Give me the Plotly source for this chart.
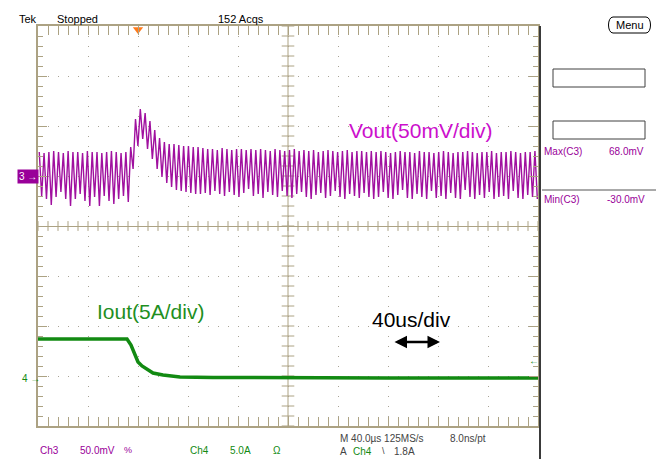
import plotly.graph_objects as go
import numpy as np

# ---------------- data ----------------
# Time base: 40 us/div, trigger at t = 0 (2 div from left), screen -80..320 us
ripple_period_us = 3.85
vout_first_peak_us = -79.0
# Vout ripple per switching cycle (mV, relative to the Ch3 ground marker)
vout_peaks_mV = [25, 24, 25, 26, 25, 24, 26, 25, 25, 24, 26, 25, 25, 24, 25, 26, 25, 24, 25,
                 30, 58, 68, 64, 56, 47, 39, 35, 33, 33, 32, 31, 31, 30, 30,
                 29, 28, 28, 27, 29, 28, 27, 28, 28, 27, 28, 27, 28, 27, 26, 28, 27, 26,
                 27, 28, 26, 27, 26, 27, 25, 26, 27, 26, 25, 26, 27, 25, 26, 26, 25, 26,
                 25, 26, 25, 24, 25, 26, 25, 25, 24, 26, 25, 25, 24, 25, 26, 25, 24,
                 25, 25, 26, 25, 24, 25, 25, 26, 24, 25, 25, 26, 25, 24, 25, 25, 26]
vout_troughs_mV = [-19, -22, -28, -20, -15, -22, -29, -22, -17, -24, -29, -20, -29, -19, -24, -27, -22, -19, -25,
                   8, 31, 38, 28, 18, 8, 0, -6, -10, -13, -14, -15, -16, -17, -17,
                   -16, -18, -14, -17, -19, -15, -18, -20, -16, -12, -19, -17, -21, -15, -18, -20, -14, -19,
                   -21, -17, -15, -20, -22, -18, -16, -21, -19, -14, -20, -22, -17, -19, -21, -16, -20, -22,
                   -20, -15, -21, -22, -18, -13, -21, -22, -17, -20, -22, -14, -21, -19, -22, -16, -21,
                   -22, -13, -20, -22, -18, -21, -15, -22, -20, -19, -22, -14, -21, -22, -18, -20, -22]
# Iout (A, relative to the Ch4 ground marker)
iout_t_us = [-80, -60, -40, -20, -8.8, -5.6, -2.4, 0, 3.2, 7.2, 12, 20, 33.6, 60, 120, 200, 320]
iout_A = [3.9, 3.9, 3.95, 3.9, 3.9, 3.3, 2.3, 1.6, 1.2, 0.9, 0.5, 0.3, 0.1, 0.05, 0.0, 0.0, 0.0]

# ---------------- build traces ----------------
n = min(len(vout_peaks_mV), len(vout_troughs_mV))
vt, vv = [], []
for k in range(n):
    tp = vout_first_peak_us + k * ripple_period_us
    vt += [tp, tp + ripple_period_us / 2]
    vv += [vout_peaks_mV[k], vout_troughs_mV[k]]

TAN = "#aca283"
DOT = "#a9a496"
PURPLE = "#a0109f"
GREEN = "#128a12"

fig = go.Figure()

# center-line tick marks (graticule decoration)
fig.add_trace(go.Scatter(x=[120] * 41, y=np.round(np.arange(-4, 4.01, 0.2), 2), mode="markers",
                         marker=dict(symbol="line-ew", size=9, line=dict(width=1, color=TAN)),
                         hoverinfo="skip", showlegend=False))
fig.add_trace(go.Scatter(x=np.arange(-80, 321, 8), y=[0] * 51, mode="markers",
                         marker=dict(symbol="line-ns", size=7, line=dict(width=1, color=TAN)),
                         hoverinfo="skip", showlegend=False))

fig.add_trace(go.Scatter(x=vt, y=vv, mode="lines", yaxis="y2",
                         line=dict(color=PURPLE, width=1.4), hoverinfo="skip", showlegend=False))
fig.add_trace(go.Scatter(x=iout_t_us, y=iout_A, mode="lines", yaxis="y3",
                         line=dict(color=GREEN, width=3.5), hoverinfo="skip", showlegend=False))

# trigger position marker
fig.add_trace(go.Scatter(x=[0], y=[3.93], mode="markers", cliponaxis=False,
                         marker=dict(symbol="triangle-down", size=9, color="#ff7a1a"),
                         hoverinfo="skip", showlegend=False))

fig.update_layout(
    width=657, height=459,
    margin=dict(l=38, r=119, t=26, b=33),
    paper_bgcolor="white", plot_bgcolor="white",
    font=dict(family="Liberation Sans, Arial, sans-serif", size=10, color="black"),
    xaxis=dict(range=[-80, 320], tick0=-80, dtick=40, showticklabels=False,
               showline=True, linecolor=TAN, linewidth=1.5, mirror="allticks",
               ticks="inside", ticklen=9, tickcolor=TAN, tickwidth=1,
               showgrid=True, gridcolor=DOT, griddash="1px,9px", gridwidth=1,
               zeroline=False,
               minor=dict(dtick=8, tick0=-80, ticks="inside", ticklen=5, tickcolor=TAN,
                          tickwidth=1, showgrid=False)),
    yaxis=dict(range=[-4, 4], tick0=-4, dtick=1, showticklabels=False,
               showline=True, linecolor=TAN, linewidth=1.5, mirror="allticks",
               ticks="inside", ticklen=9, tickcolor=TAN, tickwidth=1,
               showgrid=True, gridcolor=DOT, griddash="1px,9px", gridwidth=1,
               zeroline=True, zerolinecolor=TAN, zerolinewidth=1,
               minor=dict(dtick=0.2, tick0=-4, ticks="inside", ticklen=5, tickcolor=TAN,
                          tickwidth=1, showgrid=False)),
    yaxis2=dict(range=[-249, 151], overlaying="y", visible=False),
    yaxis3=dict(range=[-4.8, 35.2], overlaying="y", visible=False),
)


def P(x, y):
    return (x - 38) / 500.0, (426 - y) / 400.0


shapes = []
# solid vertical center line
shapes.append(dict(type="line", xref="x", yref="y", x0=120, x1=120, y0=-4, y1=4,
                   line=dict(color=TAN, width=1), layer="below"))
# dark right border of the graticule
x0, y0 = P(540, 26)
x1, y1 = P(540, 459)
shapes.append(dict(type="line", xref="paper", yref="paper", x0=x0, x1=x1, y0=y0, y1=y1,
                   line=dict(color="#3a3a3a", width=2)))
# measurement boxes
for (a, b, c, d) in [(553, 69, 645, 87), (553, 121, 645, 139)]:
    ax, ay = P(a, b)
    cx, cy = P(c, d)
    shapes.append(dict(type="rect", xref="paper", yref="paper", x0=ax, x1=cx, y0=cy, y1=ay,
                       line=dict(color="#404040", width=1), fillcolor="white"))
# line under Max
ax, ay = P(542, 190)
cx, cy = P(656, 190)
shapes.append(dict(type="line", xref="paper", yref="paper", x0=ax, x1=cx, y0=ay, y1=cy,
                   line=dict(color="#555555", width=1)))
# Menu button (rounded)
L, R, T, B = 607, 652, 17, 33
pts = {k: P(*v) for k, v in {
    "a": (L + 6, T), "b": (R - 6, T), "c": (R, T), "d": (R, B), "e": (R - 6, B),
    "f": (L + 6, B), "g": (L, B), "h": (L, T)}.items()}
path = ("M {a[0]},{a[1]} L {b[0]},{b[1]} C {c[0]},{c[1]} {d[0]},{d[1]} {e[0]},{e[1]} "
        "L {f[0]},{f[1]} C {g[0]},{g[1]} {h[0]},{h[1]} {a[0]},{a[1]} Z").format(**pts)
shapes.append(dict(type="path", xref="paper", yref="paper", path=path,
                   line=dict(color="black", width=1), fillcolor="white"))
fig.update_layout(shapes=shapes)

ann = []


def text(x, y, s, color="black", size=10, anchor="left", **kw):
    px_, py_ = P(x, y)
    ann.append(dict(xref="paper", yref="paper", x=px_, y=py_, text=s, showarrow=False,
                    xanchor=anchor, yanchor="middle", font=dict(color=color, size=size), **kw))


text(17, 19, "Tek", size=11)
text(55, 19, "Stopped", size=11)
text(216, 19, "152 Acqs", size=11)
text(629.5, 25, "Menu", size=11, anchor="center")
text(542, 152, "Max(C3)", color="#990099")
text(607, 152, "68.0mV", color="#990099")
text(542, 199, "Min(C3)", color="#990099")
text(605, 199, "-30.0mV", color="#990099")
text(38, 450, "Ch3", color="#990099")
text(78, 450, "50.0mV", color="#990099")
text(122, 450, "%", color="#990099", size=9)
text(188, 450, "Ch4", color=GREEN)
text(228, 450, "5.0A", color=GREEN)
text(271, 450, "Ω", color=GREEN)
text(338, 438, "M 40.0µs 125MS/s", color="#444444")
text(448, 438, "8.0ns/pt", color="#444444")
text(338, 451, "A", color="#444444")
text(351, 451, "Ch4", color=GREEN)
text(380, 451, "\\", color="#444444", size=9)
text(392, 451, "1.8A", color="#444444")
text(347, 130, "Vout(50mV/div)", color="#cc10cc", size=21)
text(95, 311, "Iout(5A/div)", color="#1f8f1f", size=21)
text(370, 319, "40us/div", color="black", size=21)
text(17, 177, "3 →", color="white", size=10, bgcolor="#990099", borderpad=1)
text(20, 378, "4 →", color=GREEN, size=10)
text(527, 360, "←", color=GREEN, size=10)

# double-headed timebase arrow
hx, hy = P(440, 342)
ann.append(dict(xref="paper", yref="paper", x=hx, y=hy, ax=-47, ay=0, text="",
                showarrow=True, arrowside="end+start", arrowhead=2, arrowsize=1,
                arrowwidth=2.5, arrowcolor="black"))
fig.update_layout(annotations=ann)

fig.write_html("out.html", config={"displayModeBar": False},
               post_script="document.body.style.margin='0';document.body.style.overflow='hidden';")
